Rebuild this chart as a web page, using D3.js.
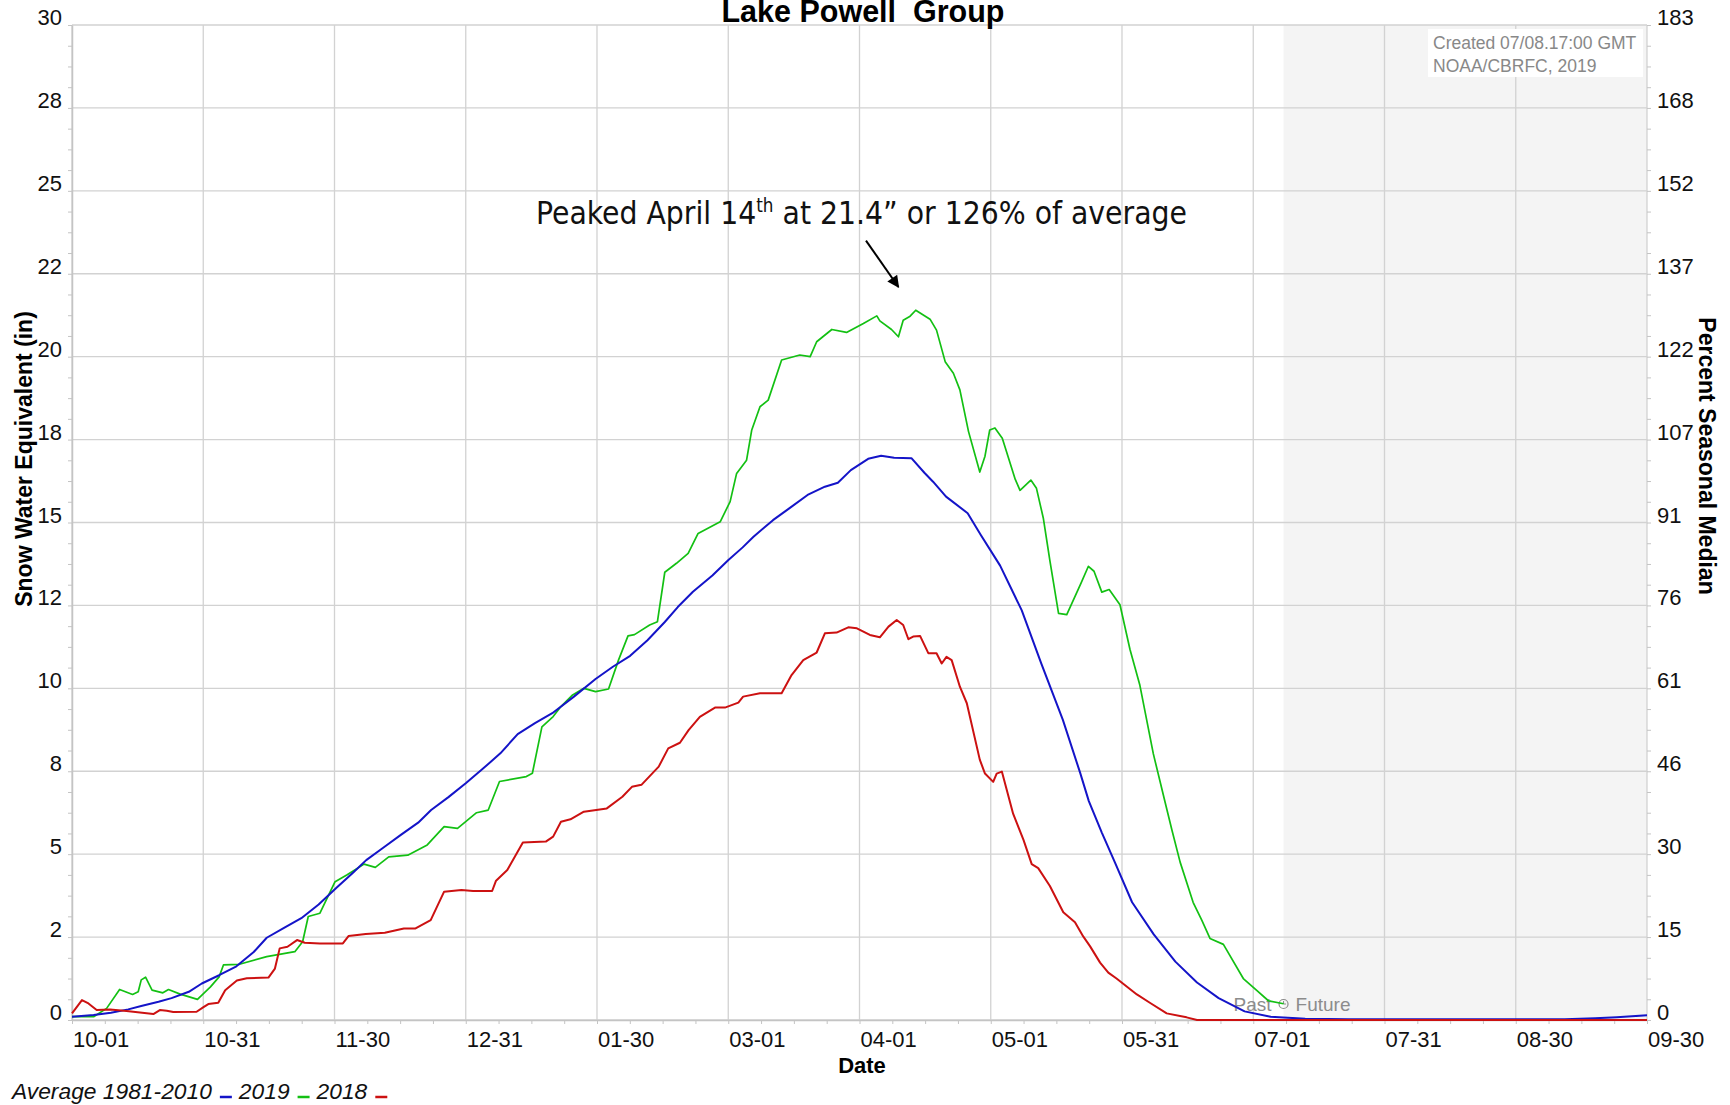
<!DOCTYPE html>
<html>
<head>
<meta charset="utf-8">
<script src="https://cdn.jsdelivr.net/npm/d3@7"></script>
<style>
    body { margin: 0; background: #fff; }
    svg { display: block; font-family: "Liberation Sans", Arial, sans-serif; }
</style>
</head>
<body>
<div id="chart"></div>
<script>

// x values are days since Oct 1 (start of the water year), 364 = Sep 30
const xTickLabels = ["10-01", "10-31", "11-30", "12-31", "01-30", "03-01", "04-01",
    "05-01", "05-31", "07-01", "07-31", "08-30", "09-30"];
const leftTickLabels = ["0", "2", "5", "8", "10", "12", "15", "18", "20", "22", "25", "28", "30"];
const rightTickLabels = ["0", "15", "30", "46", "61", "76", "91", "107", "122", "137", "152", "168", "183"];

// Average 1981-2010 (blue)
const avgDays = [0, 5, 9, 13, 16, 20, 23, 27, 30, 34, 38, 42, 45, 49, 53, 57, 61, 65, 68, 72,
    76, 80, 83, 87, 91, 95, 99, 103, 107, 111, 116, 121, 125, 129, 133, 137, 140, 143.5, 148,
    151.7, 155, 157.5, 160, 162, 166, 170, 174, 177, 180, 184, 187, 190, 194, 197, 199, 202,
    207, 210, 214.5, 219.5, 224, 229, 233, 235, 238, 241, 245, 250, 255, 260, 265, 271, 277,
    285, 295, 345, 352, 357, 364];
const avgSwe = [0.10, 0.15, 0.22, 0.32, 0.42, 0.55, 0.66, 0.85, 1.10, 1.35, 1.62, 2.05, 2.48,
    2.78, 3.07, 3.48, 3.97, 4.45, 4.82, 5.20, 5.58, 5.95, 6.33, 6.72, 7.14, 7.58, 8.04, 8.62,
    8.95, 9.25, 9.75, 10.28, 10.65, 10.98, 11.45, 12.0, 12.45, 12.91, 13.40, 13.87, 14.25,
    14.57, 14.85, 15.07, 15.45, 15.83, 16.08, 16.20, 16.58, 16.92, 17.01, 16.95, 16.94, 16.50,
    16.23, 15.78, 15.28, 14.63, 13.70, 12.35, 10.75, 9.05, 7.45, 6.60, 5.65, 4.76, 3.55, 2.58,
    1.76, 1.13, 0.66, 0.26, 0.10, 0.04, 0.02, 0.02, 0.05, 0.08, 0.14];

// 2019 (green), observed up to 07-08
const wy2019Days = [0, 5, 8, 11, 14, 15.3, 16, 17, 18.5, 21, 22.3, 25, 29, 32, 34, 35, 38.7, 45,
    51.5, 53.3, 54.6, 57.3, 60.8, 63.5, 67.5, 70.1, 73.2, 77.6, 82.1, 86, 89.1, 93.5, 96.2,
    98.8, 105, 106.4, 108.6, 111.2, 113, 115.7, 118.3, 121, 124, 126.3, 128.5, 130, 133.5,
    135.3, 137, 139.7, 142.4, 144.7, 149.8, 152.1, 153.6, 155.9, 157.1, 159, 160.9, 164,
    168.2, 170.6, 172.1, 175.6, 179, 182.9, 186, 186.7, 189.4, 191, 192.1, 193.7, 195, 198.3,
    199.8, 201.8, 203.7, 205.2, 207.2, 209.8, 211, 212.1, 213.3, 215, 218, 219.1, 221.6, 222.9,
    224.5, 226, 228, 229.9, 233.2, 234.9, 236.2, 238, 239.7, 242.2, 244.5, 246.8, 249.9, 252.6,
    254.2, 256.1, 259.1, 261.1, 263, 266.1, 270.7, 273.8, 276.5, 280];
const wy2019Swe = [0.10, 0.10, 0.35, 0.92, 0.77, 0.85, 1.21, 1.29, 0.90, 0.82, 0.92, 0.78, 0.62,
    1.00, 1.30, 1.66, 1.68, 1.91, 2.06, 2.36, 3.12, 3.22, 4.17, 4.37, 4.70, 4.60, 4.92, 4.97,
    5.28, 5.83, 5.78, 6.25, 6.33, 7.19, 7.34, 7.44, 8.84, 9.15, 9.45, 9.80, 10.0, 9.90, 9.98,
    10.85, 11.58, 11.62, 11.91, 12.01, 13.50, 13.77, 14.07, 14.67, 15.02, 15.63, 16.48, 16.88,
    17.79, 18.49, 18.69, 19.90, 20.05, 20.0, 20.45, 20.82, 20.73, 21.0, 21.23, 21.08, 20.82,
    20.60, 21.10, 21.22, 21.40, 21.13, 20.80, 19.85, 19.50, 19.0, 17.74, 16.52, 17.0, 17.79,
    17.85, 17.54, 16.30, 15.97, 16.28, 16.03, 15.12, 13.85, 12.26, 12.22, 13.17, 13.68, 13.53,
    12.90, 12.98, 12.52, 11.18, 10.09, 8.03, 6.58, 5.73, 4.76, 3.55, 3.01, 2.46, 2.28, 1.25,
    0.89, 0.58, 0.49];

// 2018 (red)
const wy2018Days = [0, 2.3, 3.8, 5.7, 8.8, 12.6, 18.8, 20.3, 21.9, 23.4, 28.8, 30.3, 31.5, 33.8,
    35.4, 38.1, 40.4, 45.4, 46.9, 48, 49.8, 52, 53.8, 57.3, 62.6, 63.9, 67.9, 72.3, 76.7, 79.4,
    82.9, 86, 90, 92.7, 97.1, 98, 100.6, 104.2, 109.5, 111.2, 113, 115.2, 118.3, 123.6, 127.2,
    129.4, 131.6, 135.6, 137.8, 140.5, 142.5, 145.1, 148.6, 150.9, 154, 155.1, 159, 164, 166.3,
    169, 172.1, 174, 176.7, 179.4, 181.4, 184.4, 186.7, 188.7, 190.6, 192.1, 193.3, 194.4, 196,
    197.9, 199.8, 201, 202.1, 203.3, 205.2, 206.8, 209.8, 211, 212.9, 213.7, 214.9, 217.5,
    219.9, 221.8, 223.3, 226, 229.1, 231.8, 233.7, 235.3, 237.6, 239.5, 241.4, 246.1, 249.1,
    253, 257.6, 260, 364];
const wy2018Swe = [0.20, 0.60, 0.50, 0.30, 0.32, 0.27, 0.18, 0.30, 0.28, 0.24, 0.25, 0.38, 0.48,
    0.52, 0.90, 1.19, 1.26, 1.28, 1.55, 2.16, 2.21, 2.41, 2.33, 2.31, 2.31, 2.53, 2.59, 2.63,
    2.76, 2.76, 3.01, 3.87, 3.92, 3.89, 3.89, 4.20, 4.52, 5.35, 5.38, 5.53, 5.98, 6.05, 6.28,
    6.38, 6.73, 7.03, 7.09, 7.64, 8.19, 8.36, 8.74, 9.14, 9.42, 9.42, 9.57, 9.75, 9.85, 9.85,
    10.40, 10.85, 11.08, 11.66, 11.68, 11.84, 11.81, 11.61, 11.54, 11.86, 12.06, 11.91, 11.48,
    11.56, 11.58, 11.06, 11.06, 10.75, 10.95, 10.85, 10.05, 9.55, 7.85, 7.43, 7.18, 7.43, 7.49,
    6.22, 5.43, 4.70, 4.58, 4.04, 3.25, 2.95, 2.52, 2.22, 1.73, 1.43, 1.25, 0.77, 0.52, 0.20,
    0.08, 0.00, 0.00];

const todayDay = 280; // 07-08, past / future split

const width = 1730;
const height = 1105;
const plotLeft = 72, plotRight = 1647, plotTop = 25, plotBottom = 1020;
const gridColor = "#d2d2d2";
const tickColor = "#c4c4c4";

const x = d3.scaleLinear().domain([0, 364]).range([plotLeft, plotRight]);
const y = d3.scaleLinear().domain([0, 30]).range([plotBottom, plotTop]);
const yRight = d3.scaleLinear().domain([0, 183]).range([plotBottom, plotTop]);

const svg = d3.select("#chart")
    .append("svg")
    .attr("width", width)
    .attr("height", height);

// future shading
svg.append("rect")
    .attr("x", x(todayDay))
    .attr("y", plotTop)
    .attr("width", x(364) - x(todayDay))
    .attr("height", plotBottom - plotTop)
    .attr("fill", "#f4f4f4");

const xTickVals = xTickLabels.map((d, i) => i * 364 / 12);
const yTickVals = leftTickLabels.map((d, i) => i * 2.5);
const rightTickVals = rightTickLabels.map((d, i) => i * 183 / 12);

// grid
svg.append("g").selectAll("line")
    .data(xTickVals)
    .enter().append("line")
    .attr("x1", d => x(d)).attr("x2", d => x(d))
    .attr("y1", plotTop).attr("y2", plotBottom)
    .attr("stroke", gridColor).attr("stroke-width", 1.3);

svg.append("g").selectAll("line")
    .data(yTickVals)
    .enter().append("line")
    .attr("x1", plotLeft).attr("x2", plotRight)
    .attr("y1", d => y(d)).attr("y2", d => y(d))
    .attr("stroke", gridColor).attr("stroke-width", 1.3);

// minor ticks
svg.append("g")
    .attr("transform", "translate(" + plotLeft + ",0)")
    .call(d3.axisLeft(y).tickValues(d3.range(0, 49).map(i => i * 0.625)).tickSize(4).tickSizeOuter(0).tickFormat(""))
    .call(g => g.selectAll("line").attr("stroke", tickColor))
    .call(g => g.select(".domain").attr("stroke", tickColor).attr("stroke-width", 1.5));

svg.append("g")
    .attr("transform", "translate(" + plotRight + ",0)")
    .call(d3.axisRight(yRight).tickValues(d3.range(0, 49).map(i => i * 183 / 48)).tickSize(4).tickSizeOuter(0).tickFormat(""))
    .call(g => g.selectAll("line").attr("stroke", tickColor))
    .call(g => g.select(".domain").attr("stroke", "none"));

svg.append("g")
    .attr("transform", "translate(0," + plotBottom + ")")
    .call(d3.axisBottom(x).tickValues(d3.range(0, 49).map(i => i * 364 / 48)).tickSize(4).tickSizeOuter(0).tickFormat(""))
    .call(g => g.selectAll("line").attr("stroke", tickColor))
    .call(g => g.select(".domain").attr("stroke", tickColor).attr("stroke-width", 1.5));

// tick labels
svg.append("g").selectAll("text")
    .data(yTickVals)
    .enter().append("text")
    .attr("x", plotLeft - 10)
    .attr("y", d => y(d))
    .attr("text-anchor", "end")
    .attr("font-size", "22px")
    .attr("fill", "#111")
    .text((d, i) => leftTickLabels[i]);

svg.append("g").selectAll("text")
    .data(rightTickVals)
    .enter().append("text")
    .attr("x", plotRight + 10)
    .attr("y", d => yRight(d))
    .attr("font-size", "22px")
    .attr("fill", "#111")
    .text((d, i) => rightTickLabels[i]);

svg.append("g").selectAll("text")
    .data(xTickVals)
    .enter().append("text")
    .attr("x", d => x(d) + 1)
    .attr("y", 1047)
    .attr("font-size", "22px")
    .attr("fill", "#111")
    .text((d, i) => xTickLabels[i]);

// axis titles
svg.append("text")
    .attr("transform", "translate(32,459) rotate(-90)")
    .attr("text-anchor", "middle")
    .attr("font-size", "23px")
    .attr("font-weight", "bold")
    .text("Snow Water Equivalent (in)");

svg.append("text")
    .attr("transform", "translate(1699,456) rotate(90)")
    .attr("text-anchor", "middle")
    .attr("font-size", "23px")
    .attr("font-weight", "bold")
    .text("Percent Seasonal Median");

svg.append("text")
    .attr("x", 862).attr("y", 1073)
    .attr("text-anchor", "middle")
    .attr("font-size", "22px")
    .attr("font-weight", "bold")
    .text("Date");

svg.append("text")
    .attr("x", 863).attr("y", 22)
    .attr("text-anchor", "middle")
    .attr("font-size", "30.5px")
    .attr("font-weight", "bold")
    .style("white-space", "pre")
    .text("Lake Powell  Group");

// created box
svg.append("rect")
    .attr("x", 1428).attr("y", 29)
    .attr("width", 215).attr("height", 48)
    .attr("fill", "#fff");

svg.append("text")
    .attr("x", 1433).attr("y", 49)
    .attr("font-size", "17.5px").attr("fill", "#888")
    .text("Created 07/08.17:00 GMT");

svg.append("text")
    .attr("x", 1433).attr("y", 72)
    .attr("font-size", "17.5px").attr("fill", "#888")
    .text("NOAA/CBRFC, 2019");

// past / future marker
const nowX = x(todayDay);
svg.append("text")
    .attr("x", nowX - 12).attr("y", 1011)
    .attr("text-anchor", "end")
    .attr("font-size", "19px").attr("fill", "#8c8c8c")
    .text("Past");
svg.append("text")
    .attr("x", nowX + 12).attr("y", 1011)
    .attr("font-size", "19px").attr("fill", "#8c8c8c")
    .text("Future");
svg.append("circle")
    .attr("cx", nowX).attr("cy", 1004).attr("r", 4.5)
    .attr("fill", "none").attr("stroke", "#8c8c8c").attr("stroke-width", 1.2);
svg.append("path")
    .attr("d", "M" + nowX + ",1001V1004H" + (nowX + 2.5))
    .attr("fill", "none").attr("stroke", "#8c8c8c").attr("stroke-width", 1);

// series
const line = d3.line()
    .x(d => x(d[0]))
    .y(d => y(d[1]));

const series = [
    {name: "2019", days: wy2019Days, swe: wy2019Swe, color: "#13c013", w: 1.7},
    {name: "Average 1981-2010", days: avgDays, swe: avgSwe, color: "#1414c8", w: 2},
    {name: "2018", days: wy2018Days, swe: wy2018Swe, color: "#cc1111", w: 2}
];

svg.append("g").selectAll("path")
    .data(series)
    .enter().append("path")
    .attr("d", s => line(s.days.map((d, i) => [d, s.swe[i]])))
    .attr("fill", "none")
    .attr("stroke", s => s.color)
    .attr("stroke-width", s => s.w)
    .attr("stroke-linejoin", "round");

// annotation
const note = svg.append("text")
    .attr("x", 536).attr("y", 224)
    .style("font-family", '"DejaVu Sans Condensed", "DejaVu Sans", sans-serif')
    .style("font-size", "32px")
    .attr("fill", "#111");
note.append("tspan").text("Peaked April 14");
note.append("tspan").attr("dy", -12).style("font-size", "19px").text("th");
note.append("tspan").attr("dy", 12).text(" at 21.4\u201D or 126% of average");
note.attr("textLength", 651).attr("lengthAdjust", "spacingAndGlyphs");

svg.append("defs").append("marker")
    .attr("id", "head")
    .attr("viewBox", "0 0 10 10")
    .attr("refX", 9).attr("refY", 5)
    .attr("markerWidth", 7).attr("markerHeight", 6)
    .attr("markerUnits", "strokeWidth")
    .attr("orient", "auto")
    .append("path")
    .attr("d", "M0,0L10,5L0,10Z")
    .attr("fill", "#000");

svg.append("line")
    .attr("x1", x(183.5)).attr("y1", y(23.5))
    .attr("x2", x(191)).attr("y2", y(22.1))
    .attr("stroke", "#000").attr("stroke-width", 2)
    .attr("marker-end", "url(#head)");

// legend
const legendItems = [
    {label: "Average 1981-2010", color: "#1414c8"},
    {label: "2019", color: "#13c013"},
    {label: "2018", color: "#cc1111"}
];
let lx = 12;
legendItems.forEach(function(item) {
    const t = svg.append("text")
        .attr("x", lx).attr("y", 1099)
        .attr("font-size", "22.8px")
        .attr("font-style", "italic")
        .attr("fill", "#111")
        .text(item.label);
    lx += t.node().getComputedTextLength() + 8;
    svg.append("line")
        .attr("x1", lx).attr("x2", lx + 12)
        .attr("y1", 1097).attr("y2", 1097)
        .attr("stroke", item.color).attr("stroke-width", 2.5);
    lx += 19;
});

</script>
</body>
</html>
